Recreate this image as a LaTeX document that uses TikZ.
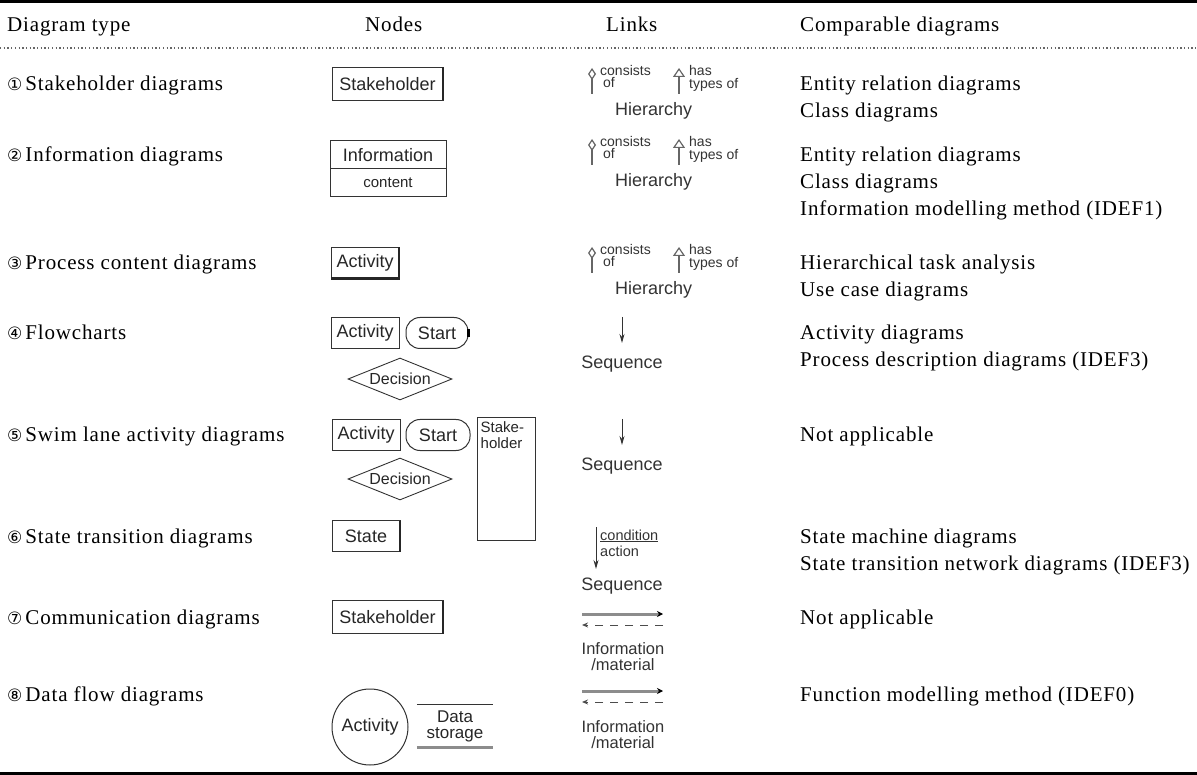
\documentclass[tikz,border=0pt]{standalone}
\usepackage{fontspec}
\setmainfont{Liberation Serif}
\setsansfont{Liberation Sans}
\newfontfamily\tabfont{Liberation Serif}[LetterSpace=4]
\newfontfamily\numfont{DejaVu Sans}
\usetikzlibrary{positioning, shapes.geometric, arrows.meta}

\newcommand{\cnum}[1]{{\numfont\fontsize{17}{17}\selectfont#1}\hspace{3pt}}

\tikzset{
  coltext/.style={anchor=base west, inner sep=0pt, font=\tabfont\fontsize{21}{25}\selectfont},
  shapetext/.style={font=\sffamily\fontsize{18}{20}\selectfont, text=black!85},
  nodebox/.style={shapetext, draw=black!80, line width=1pt, inner sep=2pt, outer sep=0pt, minimum height=31pt},
  startbox/.style={nodebox, rounded corners=14pt},
  decision/.style={shapetext, diamond, draw=black!80, line width=0.9pt, aspect=2.6, inner sep=1pt,
    minimum width=104pt, minimum height=42pt, font=\sffamily\fontsize{16}{18}\selectfont},
  heavyedge/.style={line width=2.6pt, draw=black!85},
  linklbl/.style={anchor=base west, inner sep=0pt, text=black!80, font=\sffamily\fontsize{14}{14}\selectfont},
  linkname/.style={anchor=base, inner sep=0pt, text=black!80, font=\sffamily\fontsize{18}{20}\selectfont},
  aggline/.style={draw=black!60, line width=1.2pt, -{Diamond[open, length=12pt, width=8pt]}},
  genline/.style={draw=black!60, line width=1.2pt, -{Triangle[open, length=9pt, width=12pt]}},
  seqline/.style={draw=black!80, line width=1pt, -{Stealth[length=9pt, width=5pt]}},
  flowline/.style={draw=black!45, line width=3pt, -{Stealth[length=6pt, width=6pt, color=black]}},
  backline/.style={draw=black!70, line width=1pt, dash pattern=on 8pt off 7pt, -{Stealth[length=6pt, width=5pt]}}
}

\begin{document}
\begin{tikzpicture}[x=1pt, y=-1pt]
  \useasboundingbox (0,0) rectangle (1197,775);

  % rules
  \draw[line width=3pt] (0,1.5) -- (1197,1.5);
  \draw[line width=1.3pt, black!60, dash pattern=on 1.3pt off 2.4pt] (0,48) -- (1197,48);
  \draw[line width=3pt] (0,773) -- (1197,773);

  % header
  \node[coltext] (hdtype) at (7,32) {Diagram type};
  \node[coltext] (hdnodes) at (365,32) {Nodes};
  \node[coltext] (hdlinks) at (606,32) {Links};
  \node[coltext] (hdcomp) at (800,32) {Comparable diagrams};

  % diagram types
  \node[coltext] (type1) at (7,91) {\cnum{①}Stakeholder diagrams};
  \node[coltext] (type2) at (7,162) {\cnum{②}Information diagrams};
  \node[coltext] (type3) at (7,270) {\cnum{③}Process content diagrams};
  \node[coltext] (type4) at (7,340) {\cnum{④}Flowcharts};
  \node[coltext] (type5) at (7,442) {\cnum{⑤}Swim lane activity diagrams};
  \node[coltext] (type6) at (7,543) {\cnum{⑥}State transition diagrams};
  \node[coltext] (type7) at (7,624) {\cnum{⑦}Communication diagrams};
  \node[coltext] (type8) at (7,701) {\cnum{⑧}Data flow diagrams};

  % nodes
  \node[nodebox, minimum width=111pt, minimum height=33pt] (stake1) at (387.5,84) {Stakeholder};
  \draw[heavyedge] (stake1.north east) -- (stake1.south east);

  \node[nodebox, minimum width=116pt, minimum height=28pt] (info2) at (388,155) {Information};
  \node[nodebox, minimum width=116pt, minimum height=28pt, below=0pt of info2,
    font=\sffamily\fontsize{15}{16}\selectfont] (content2) {content};

  \node[nodebox, minimum width=68pt] (act3) at (365,263) {Activity};
  \draw[heavyedge] (act3.south west) -- (act3.south east) -- (act3.north east);

  \node[nodebox, minimum width=68pt] (act4) at (365,333) {Activity};
  \node[startbox, minimum width=62pt, right=7pt of act4] (start4) {Start};
  \draw[line width=3pt] ([yshift=4pt]start4.east) -- ([yshift=-4pt]start4.east);
  \node[decision] (dec4) at (400,379) {Decision};

  \node[nodebox, minimum width=68pt] (act5) at (366,435) {Activity};
  \node[startbox, minimum width=64pt, right=6pt of act5] (start5) {Start};
  \node[draw=black!80, line width=1pt, minimum width=58pt, minimum height=122pt, inner sep=0pt] (lane5) at (506,479) {};
  \node[anchor=north west, align=left, inner sep=0pt, text=black!85,
    font=\sffamily\fontsize{15}{16}\selectfont] (lanetxt5) at ([shift={(4pt,-4pt)}]lane5.north west) {Stake-\\holder};
  \node[decision] (dec5) at (400,479) {Decision};

  \node[nodebox, minimum width=68pt] (state6) at (366,536) {State};
  \draw[heavyedge] (state6.north east) -- (state6.south east);

  \node[nodebox, minimum width=111pt, minimum height=33pt] (stake7) at (387.5,617) {Stakeholder};
  \draw[heavyedge] (stake7.north east) -- (stake7.south east);

  \node[shapetext, circle, draw=black!80, line width=1pt, minimum size=76pt, inner sep=0pt] (act8) at (370,727) {Activity};
  \node[shapetext, align=center, minimum width=76pt, minimum height=42pt, inner sep=0pt,
    font=\sffamily\fontsize{17}{16}\selectfont] (store8) at (455,726) {Data\\storage};
  \draw[line width=1pt, black!80] (store8.north west) -- (store8.north east);
  \draw[line width=3pt, black!45] (store8.south west) -- (store8.south east);

  % links: hierarchy
  \coordinate (aggfoot1) at (592,94);
  \coordinate (agghead1) at (592,68);
  \draw[aggline] (aggfoot1) -- (agghead1);
  \node[linklbl] (cons1) at (600,76) {consists};
  \node[linklbl] (consof1) at (603,88) {of};
  \coordinate (genfoot1) at (679,94);
  \coordinate (genhead1) at (679,68);
  \draw[genline] (genfoot1) -- (genhead1);
  \node[linklbl] (has1) at (689,76) {has};
  \node[linklbl] (types1) at (689,89) {types of};
  \node[linkname, anchor=base west] (hier1) at (615,116) {Hierarchy};

  \coordinate (aggfoot2) at (592,165);
  \coordinate (agghead2) at (592,139);
  \draw[aggline] (aggfoot2) -- (agghead2);
  \node[linklbl] (cons2) at (600,147) {consists};
  \node[linklbl] (consof2) at (603,159) {of};
  \coordinate (genfoot2) at (679,165);
  \coordinate (genhead2) at (679,139);
  \draw[genline] (genfoot2) -- (genhead2);
  \node[linklbl] (has2) at (689,147) {has};
  \node[linklbl] (types2) at (689,160) {types of};
  \node[linkname, anchor=base west] (hier2) at (615,187) {Hierarchy};

  \coordinate (aggfoot3) at (592,273);
  \coordinate (agghead3) at (592,247);
  \draw[aggline] (aggfoot3) -- (agghead3);
  \node[linklbl] (cons3) at (600,255) {consists};
  \node[linklbl] (consof3) at (603,267) {of};
  \coordinate (genfoot3) at (679,273);
  \coordinate (genhead3) at (679,247);
  \draw[genline] (genfoot3) -- (genhead3);
  \node[linklbl] (has3) at (689,255) {has};
  \node[linklbl] (types3) at (689,268) {types of};
  \node[linkname, anchor=base west] (hier3) at (615,295) {Hierarchy};

  % links: sequence
  \coordinate (seqtop4) at (622,317);
  \coordinate (seqend4) at (622,343);
  \draw[seqline] (seqtop4) -- (seqend4);
  \node[linkname] (seq4) at (622,369) {Sequence};

  \coordinate (seqtop5) at (622,419);
  \coordinate (seqend5) at (622,445);
  \draw[seqline] (seqtop5) -- (seqend5);
  \node[linkname] (seq5) at (622,471) {Sequence};

  \coordinate (seqtop6) at (596,527);
  \coordinate (seqend6) at (596,569);
  \draw[seqline] (seqtop6) -- (seqend6);
  \node[linklbl, font=\sffamily\fontsize{14.5}{15}\selectfont] (cond6) at (600,540) {\underline{condition}};
  \node[linklbl, font=\sffamily\fontsize{14.5}{15}\selectfont] (action6) at (600,556) {action};
  \node[linkname] (seq6) at (622,590) {Sequence};

  % links: information flow
  \coordinate (flowa7) at (582,614);
  \coordinate (flowb7) at (663,614);
  \draw[flowline] (flowa7) -- (flowb7);
  \coordinate (backa7) at (663,625);
  \coordinate (backb7) at (582,625);
  \draw[backline] (backa7) -- (backb7);
  \node[linkname, font=\sffamily\fontsize{16.5}{17}\selectfont] (inf7) at (623,654) {Information};
  \node[linkname, font=\sffamily\fontsize{16.5}{17}\selectfont] (mat7) at (623,670) {/material};

  \coordinate (flowa8) at (582,691);
  \coordinate (flowb8) at (663,691);
  \draw[flowline] (flowa8) -- (flowb8);
  \coordinate (backa8) at (663,702);
  \coordinate (backb8) at (582,702);
  \draw[backline] (backa8) -- (backb8);
  \node[linkname, font=\sffamily\fontsize{16.5}{17}\selectfont] (inf8) at (623,732) {Information};
  \node[linkname, font=\sffamily\fontsize{16.5}{17}\selectfont] (mat8) at (623,748) {/material};

  % comparable diagrams
  \node[coltext] (comp1a) at (800,91) {Entity relation diagrams};
  \node[coltext] (comp1b) at (800,118) {Class diagrams};
  \node[coltext] (comp2a) at (800,162) {Entity relation diagrams};
  \node[coltext] (comp2b) at (800,189) {Class diagrams};
  \node[coltext] (comp2c) at (800,216) {Information modelling method (IDEF1)};
  \node[coltext] (comp3a) at (800,270) {Hierarchical task analysis};
  \node[coltext] (comp3b) at (800,297) {Use case diagrams};
  \node[coltext] (comp4a) at (800,340) {Activity diagrams};
  \node[coltext] (comp4b) at (800,367) {Process description diagrams (IDEF3)};
  \node[coltext] (comp5a) at (800,442) {Not applicable};
  \node[coltext] (comp6a) at (800,543) {State machine diagrams};
  \node[coltext] (comp6b) at (800,570) {State transition network diagrams (IDEF3)};
  \node[coltext] (comp7a) at (800,624) {Not applicable};
  \node[coltext] (comp8a) at (800,701) {Function modelling method (IDEF0)};
\end{tikzpicture}
\end{document}
